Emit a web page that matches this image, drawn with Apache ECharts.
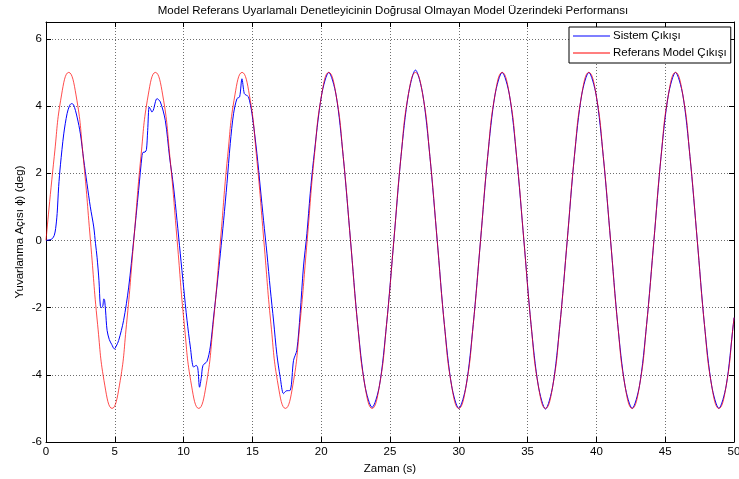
<!DOCTYPE html>
<html>
<head>
<meta charset="utf-8">
<script src="https://cdn.jsdelivr.net/npm/echarts@6/dist/echarts.min.js"></script>
<style>
  html, body { margin: 0; padding: 0; background: #fff; }
  #chart { width: 739px; height: 479px; }
</style>
</head>
<body>
<div id="chart"></div>
<script>
// Reference model output (time in s, roll angle in deg)
const redT = [0, 0.6, 1.13, 1.65, 2.18, 2.7, 3.23, 3.75, 4.28, 4.8, 5.33, 5.85,
  6.38, 6.9, 7.43, 7.95, 8.48, 9.0, 9.53, 10.05, 10.58, 11.1, 11.63, 12.15,
  12.68, 13.2, 13.73, 14.25, 14.78, 15.3, 15.83, 16.35, 16.88, 17.4, 17.93, 18.45,
  18.98, 19.5, 20.03, 20.55, 21.08, 21.6, 22.13, 22.65, 23.18, 23.7, 24.23, 24.75,
  25.28, 25.8, 26.33, 26.85, 27.38, 27.9, 28.43, 28.95, 29.48, 30.0, 30.53, 31.05,
  31.58, 32.1, 32.63, 33.15, 33.68, 34.2, 34.73, 35.25, 35.78, 36.3, 36.83, 37.35,
  37.88, 38.4, 38.93, 39.45, 39.98, 40.5, 41.03, 41.55, 42.08, 42.6, 43.13, 43.65,
  44.18, 44.7, 45.23, 45.75, 46.28, 46.8, 47.33, 47.85, 48.38, 48.9, 49.43, 49.95, 50];
const redV = [0, 2.5, 4.33, 5, 4.33, 2.5, 0, -2.5, -4.33, -5, -4.33, -2.5,
  0, 2.5, 4.33, 5, 4.33, 2.5, 0, -2.5, -4.33, -5, -4.33, -2.5,
  0, 2.5, 4.33, 5, 4.33, 2.5, 0, -2.5, -4.33, -5, -4.33, -2.5,
  0, 2.5, 4.33, 5, 4.33, 2.5, 0, -2.5, -4.33, -5, -4.33, -2.5,
  0, 2.5, 4.33, 5, 4.33, 2.5, 0, -2.5, -4.33, -5, -4.33, -2.5,
  0, 2.5, 4.33, 5, 4.33, 2.5, 0, -2.5, -4.33, -5, -4.33, -2.5,
  0, 2.5, 4.33, 5, 4.33, 2.5, 0, -2.5, -4.33, -5, -4.33, -2.5,
  0, 2.5, 4.33, 5, 4.33, 2.5, 0, -2.5, -4.33, -5, -4.33, -2.5, -2.3];

// System output (time in s, roll angle in deg)
const blueT = [0, 0.3, 0.45, 0.6, 0.7, 0.81, 0.92, 1.05, 1.29, 1.53, 1.7, 1.84,
  2.0, 2.26, 2.5, 2.74, 2.98, 3.22, 3.47, 3.6, 3.71, 3.85, 3.95, 4.05,
  4.13, 4.2, 4.26, 4.33, 4.44, 4.6, 4.78, 4.97, 5.1, 5.28, 5.64, 6.01,
  6.37, 6.73, 6.98, 7.05, 7.2, 7.3, 7.39, 7.5, 7.6, 7.7, 7.8, 8.07,
  8.31, 8.67, 8.98, 9.27, 9.52, 9.76, 10.0, 10.25, 10.49, 10.73, 10.92, 11.03,
  11.16, 11.29, 11.41, 11.7, 11.94, 12.18, 12.42, 12.67, 12.91, 13.15, 13.39, 13.63,
  13.88, 14.07, 14.24, 14.41, 14.56, 14.72, 14.97, 15.33, 15.57, 15.81, 16.06, 16.3,
  16.54, 16.78, 17.02, 17.26, 17.45, 17.75, 17.99, 18.23, 18.47, 18.71, 18.96, 19.2,
  19.44, 20.03, 20.55, 21.08, 21.6, 22.13, 22.65, 23.18, 23.7, 24.23, 24.75,
  25.28, 25.8, 26.33, 26.85, 27.38, 27.9, 28.43, 28.95, 29.48, 30.0, 30.53, 31.05,
  31.58, 32.1, 32.63, 33.15, 33.68, 34.2, 34.73, 35.25, 35.78, 36.3, 36.83, 37.35,
  37.88, 38.4, 38.93, 39.45, 39.98, 40.5, 41.03, 41.55, 42.08, 42.6, 43.13, 43.65,
  44.18, 44.7, 45.23, 45.75, 46.28, 46.8, 47.33, 47.85, 48.38, 48.9, 49.43, 49.95, 50];
const blueV = [0, 0.02, 0.05, 0.15, 0.35, 0.8, 1.6, 2.25, 3.17, 3.77, 4.0, 4.07,
  4.04, 3.67, 3.17, 2.4, 1.69, 1.0, 0.4, -0.1, -0.5, -1.2, -1.95, -2.0,
  -1.95, -1.74, -1.78, -2.1, -2.68, -2.95, -3.1, -3.23, -3.15, -2.98, -2.38, -1.39,
  0, 1.49, 2.53, 2.62, 2.63, 2.7, 3.27, 3.97, 3.9, 3.82, 3.88, 4.22,
  4.12, 3.57, 2.48, 1.59, 0.6, -0.4, -1.39, -2.38, -3.17, -3.77, -3.72, -3.8,
  -4.37, -4.07, -3.72, -3.6, -3.17, -2.28, -1.39, -0.4, 0.6, 1.69, 2.88, 3.77,
  4.22, 4.27, 4.81, 4.37, 4.32, 4.27, 3.77, 2.58, 1.59, 0.6, -0.4, -1.45,
  -2.4, -3.4, -4.07, -4.56, -4.48, -4.46, -3.57, -3.27, -2.18, -0.79, 0.2, 1.39,
  2.38, 4.33, 5.0, 4.33, 2.5, 0, -2.5, -4.33, -4.97, -4.33, -2.5,
  0, 2.5, 4.33, 5.07, 4.35, 2.5, 0, -2.5, -4.33, -5, -4.33, -2.5,
  0, 2.5, 4.33, 5, 4.33, 2.5, 0, -2.5, -4.33, -5.02, -4.33, -2.5,
  0, 2.5, 4.33, 5, 4.33, 2.5, 0, -2.5, -4.33, -5, -4.33, -2.5,
  0, 2.5, 4.33, 5, 4.33, 2.5, 0, -2.5, -4.33, -5, -4.33, -2.5, -2.3];

const xTicks = { min: 0, max: 50, interval: 5 };
const yTicks = { min: -6, max: 6.5, interval: 2 };

const titleText = 'Model Referans Uyarlamalı Denetleyicinin Doğrusal Olmayan Model Üzerindeki Performansı';
const xName = 'Zaman (s)';
const yName = 'Yuvarlanma Açısı ϕ) (deg)';
const seriesNames = ['Sistem Çıkışı', 'Referans Model Çıkışı'];

const FONT = 'Liberation Sans, Arial, sans-serif';
const FS = 11.5;
const gridLine = { show: true, lineStyle: { color: '#6e6e6e', type: [1, 2], width: 1 } };
const axisLine = { show: true, onZero: false, lineStyle: { color: '#000', width: 1 } };
const tickIn = { show: true, inside: true, length: 5, lineStyle: { color: '#000' } };

const chart = echarts.init(document.getElementById('chart'), null, { renderer: 'canvas' });
chart.setOption({
  animation: false,
  backgroundColor: '#fff',
  textStyle: { fontFamily: FONT },
  graphic: [{
    type: 'text', x: 393, y: 11, z: 10,
    style: { text: titleText, fontFamily: FONT, fontSize: FS, fill: '#000',
      align: 'center', verticalAlign: 'middle' }
  }],
  grid: { left: 46, right: 5, top: 22, bottom: 37, outerBoundsMode: 'none', containLabel: false },
  legend: {
    data: seriesNames,
    orient: 'vertical',
    left: 569, top: 27,
    padding: [2, 4, 3, 4],
    itemGap: 3,
    itemWidth: 37, itemHeight: 1,
    icon: 'rect',
    backgroundColor: '#fff',
    borderColor: '#000', borderWidth: 1, borderRadius: 0,
    textStyle: { fontFamily: FONT, fontSize: FS, color: '#000', lineHeight: 14, padding: [0, 0, 0, -2] }
  },
  xAxis: [{
    type: 'value', ...xTicks,
    name: xName, nameLocation: 'middle', nameGap: 21, nameMoveOverlap: false,
    nameTextStyle: { fontFamily: FONT, fontSize: FS, color: '#000' },
    axisLine, axisTick: tickIn, splitLine: gridLine,
    axisLabel: { color: '#000', fontSize: FS, margin: 4, fontFamily: FONT }
  }, {
    type: 'value', ...xTicks, position: 'top',
    axisLine, axisTick: tickIn, splitLine: { show: false }, axisLabel: { show: false }
  }],
  yAxis: [{
    type: 'value', ...yTicks,
    name: yName, nameLocation: 'middle', nameGap: 20, nameMoveOverlap: false,
    nameTextStyle: { fontFamily: FONT, fontSize: FS, color: '#000' },
    axisLine, axisTick: tickIn, splitLine: gridLine,
    axisLabel: { color: '#000', fontSize: FS, margin: 4, showMaxLabel: false, fontFamily: FONT }
  }, {
    type: 'value', ...yTicks, position: 'right',
    axisLine, axisTick: tickIn, splitLine: { show: false }, axisLabel: { show: false }
  }],
  series: [{
    name: seriesNames[0], type: 'line', showSymbol: false, smooth: 0.3,
    color: '#0000ff',
    lineStyle: { color: '#0000ff', width: 1 },
    data: blueT.map((t, i) => [t, blueV[i]])
  }, {
    name: seriesNames[1], type: 'line', showSymbol: false, smooth: 0.5,
    color: '#ff0000',
    lineStyle: { color: '#ff0000', width: 1, opacity: 0.7 },
    data: redT.map((t, i) => [t, redV[i]])
  }]
});
</script>
</body>
</html>
